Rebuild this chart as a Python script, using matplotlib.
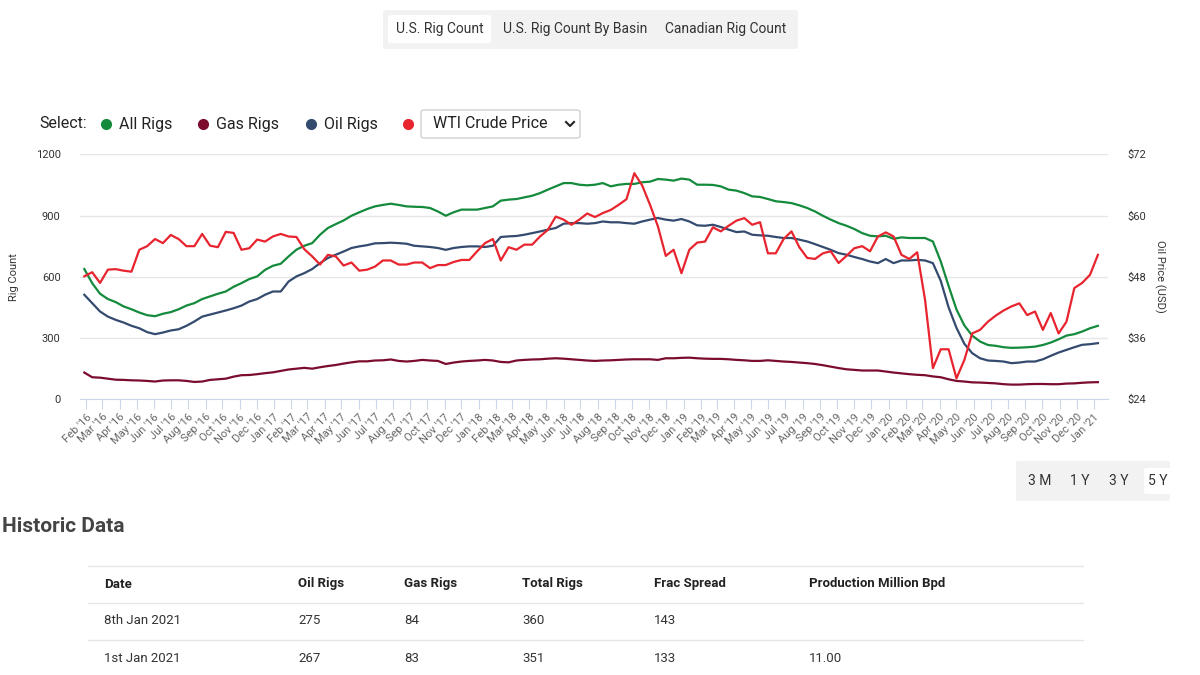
import numpy as np
import pandas as pd
import matplotlib
matplotlib.use("Agg")
import matplotlib.pyplot as plt
from matplotlib.patches import FancyBboxPatch
from matplotlib.lines import Line2D

plt.rcParams['font.family'] = ['Roboto', 'DejaVu Sans']

# weekly data sampled every two weeks, 29 Jan 2016 .. 8 Jan 2021
dates = pd.date_range('2016-01-29', periods=130, freq='14D')

all_rigs = [
    638, 569, 517, 491, 476, 455, 441, 425, 412, 407,
    419, 427, 441, 459, 471, 491, 504, 517, 528, 551,
    569, 589, 602, 634, 654, 664, 700, 733, 752, 765,
    806, 839, 858, 876, 899, 916, 932, 945, 952, 958,
    952, 945, 943, 942, 937, 920, 899, 916, 929, 929,
    929, 937, 945, 973, 978, 981, 989, 997, 1010, 1027,
    1043, 1059, 1059, 1051, 1048, 1051, 1059, 1043, 1051, 1055,
    1055, 1063, 1066, 1079, 1076, 1071, 1081, 1076, 1051, 1051,
    1050, 1043, 1027, 1022, 1010, 994, 991, 981, 970, 966,
    961, 950, 937, 920, 899, 880, 863, 850, 834, 814,
    801, 798, 801, 786, 793, 790, 790, 790, 773, 675,
    555, 440, 362, 312, 283, 266, 262, 255, 252, 253,
    255, 258, 266, 278, 294, 312, 319, 332, 348, 360,
]

oil_rigs = [
    512, 471, 430, 405, 389, 376, 360, 348, 329, 319,
    327, 337, 343, 360, 381, 405, 415, 425, 435, 446,
    459, 479, 491, 512, 528, 528, 577, 602, 618, 638,
    667, 692, 708, 724, 741, 749, 755, 764, 765, 767,
    765, 762, 752, 749, 746, 741, 732, 741, 746, 749,
    749, 746, 752, 795, 798, 800, 806, 814, 822, 831,
    839, 860, 863, 863, 860, 863, 871, 867, 867, 863,
    860, 871, 880, 888, 880, 875, 883, 871, 852, 850,
    855, 844, 831, 819, 822, 806, 803, 801, 795, 790,
    790, 782, 773, 760, 746, 732, 716, 708, 697, 687,
    675, 667, 687, 667, 680, 680, 683, 680, 667, 580,
    450, 350, 272, 226, 201, 190, 188, 185, 177, 180,
    185, 185, 196, 213, 229, 242, 255, 267, 270, 275,
]

gas_rigs = [
    131, 108, 106, 101, 96, 95, 93, 92, 90, 87,
    92, 93, 93, 90, 85, 87, 95, 98, 101, 111,
    118, 119, 123, 128, 132, 139, 146, 150, 154, 150,
    157, 163, 168, 175, 181, 186, 186, 190, 191, 195,
    188, 185, 188, 193, 190, 188, 173, 180, 185, 188,
    190, 193, 190, 183, 181, 190, 193, 195, 196, 199,
    201, 199, 196, 193, 190, 188, 190, 191, 193, 195,
    196, 196, 196, 193, 201, 201, 203, 204, 201, 199,
    198, 198, 196, 193, 191, 188, 188, 191, 188, 185,
    183, 180, 177, 173, 167, 160, 153, 147, 144, 141,
    141, 141, 136, 131, 127, 123, 120, 118, 112, 108,
    98, 90, 87, 83, 82, 80, 78, 74, 72, 72,
    74, 75, 75, 74, 74, 77, 78, 81, 83, 84,
]

wti_price = [
    48.1, 48.9, 46.8, 49.4, 49.5, 49.2, 49.0, 53.3, 54.0, 55.4,
    54.6, 56.2, 55.4, 54.0, 54.0, 56.4, 54.1, 53.8, 56.8, 56.6,
    53.3, 53.6, 55.3, 54.9, 55.9, 56.4, 55.9, 55.8, 53.4, 52.0,
    50.4, 52.3, 52.0, 50.2, 50.8, 49.2, 49.4, 50.0, 51.2, 51.2,
    50.4, 50.4, 50.8, 50.8, 49.7, 50.3, 50.3, 50.9, 51.3, 51.3,
    53.0, 54.6, 55.4, 51.2, 53.8, 53.3, 54.3, 54.3, 55.9, 57.2,
    59.8, 59.2, 58.2, 59.2, 60.4, 59.7, 60.5, 61.1, 62.1, 63.2,
    68.3, 65.9, 62.1, 57.9, 52.1, 53.3, 48.7, 53.3, 54.7, 54.9,
    57.7, 56.9, 58.0, 59.0, 59.5, 58.2, 58.7, 52.6, 52.6, 55.4,
    56.9, 53.8, 51.7, 51.5, 52.6, 53.0, 50.7, 52.1, 53.6, 54.0,
    53.0, 55.9, 56.7, 55.9, 52.3, 51.5, 52.8, 43.5, 30.1, 33.8,
    33.8, 28.1, 31.7, 36.9, 37.6, 39.2, 40.4, 41.4, 42.2, 42.8,
    40.5, 41.2, 37.6, 40.9, 36.9, 39.2, 45.8, 46.8, 48.4, 52.3,
]

rig_ticks = [0, 300, 600, 900, 1200]
price_ticks = [24, 36, 48, 60, 72]
month_ticks = pd.date_range('2016-02-01', '2021-01-01', freq='MS')

table_cols = ['Date', 'Oil Rigs', 'Gas Rigs', 'Total Rigs', 'Frac Spread', 'Production Million Bpd']
table_rows = [
    ['8th Jan 2021', '275', '84', '360', '143', ''],
    ['1st Jan 2021', '267', '83', '351', '133', '11.00'],
]

c_all = '#148a3c'
c_gas = '#7b0c2e'
c_oil = '#344a6e'
c_wti = '#e8242f'

W, H = 1200, 675
fig = plt.figure(figsize=(12, 6.75), dpi=100)


def fx(px):
    return px / W


def fy(py):
    return 1 - py / H


ax = fig.add_axes([fx(80), fy(399.3), fx(1108) - fx(80), fy(154.3) - fy(399.3)])
ax.plot(dates, all_rigs, color=c_all, lw=1.6)
ax.plot(dates, gas_rigs, color=c_gas, lw=1.6)
ax.plot(dates, oil_rigs, color=c_oil, lw=1.6)
ax.set_ylim(0, 1200)
ax.set_yticks(rig_ticks)
ax.set_xlim(dates[0] - pd.Timedelta(days=7.7), dates[0] + pd.Timedelta(days=1824))
ax.grid(axis='y', color='#e6e6e6', lw=1)
ax.set_axisbelow(True)
for s in ['top', 'right', 'left']:
    ax.spines[s].set_visible(False)
ax.spines['bottom'].set_color('#ccd6eb')
ax.set_xticks(month_ticks)
ax.set_xticklabels([d.strftime("%b '%y") for d in month_ticks], rotation=45,
                   ha='right', rotation_mode='anchor', fontsize=8, color='#666666')
ax.tick_params(axis='x', length=7, color='#ccd6eb', pad=2)
ax.tick_params(axis='y', length=0, labelsize=8, labelcolor='#333333', pad=14)
ax.set_ylabel('Rig Count', fontsize=8, color='#333333', labelpad=12)

ax2 = ax.twinx()
ax2.plot(dates, wti_price, color=c_wti, lw=1.6)
ax2.set_ylim(24, 72)
ax2.set_yticks(price_ticks)
ax2.set_yticklabels(['$%d' % v for v in price_ticks])
ax2.tick_params(axis='y', length=0, labelsize=8, labelcolor='#333333', pad=14)
for s in ax2.spines.values():
    s.set_visible(False)
ax2.set_ylabel('Oil Price (USD)', fontsize=8, color='#333333', rotation=270, labelpad=14)

# top tab bar
fig.add_artist(FancyBboxPatch((fx(383), fy(49)), fx(798) - fx(383), fy(10) - fy(49),
                              boxstyle='round,pad=0,rounding_size=0.003',
                              transform=fig.transFigure, fc='#f2f2f2', ec='none'))
fig.add_artist(FancyBboxPatch((fx(388), fy(43)), fx(491) - fx(388), fy(15) - fy(43),
                              boxstyle='round,pad=0,rounding_size=0.003',
                              transform=fig.transFigure, fc='white', ec='none'))
for txt, px in [('U.S. Rig Count', 440), ('U.S. Rig Count By Basin', 575), ('Canadian Rig Count', 726)]:
    fig.text(fx(px), fy(29), txt, ha='center', va='center', fontsize=10, color='#333333')

# series selector row
fig.text(fx(39), fy(124), 'Select:', ha='left', va='center', fontsize=11.5, color='#222222')
for col, label, px in [(c_all, 'All Rigs', 106), (c_gas, 'Gas Rigs', 203), (c_oil, 'Oil Rigs', 311), (c_wti, None, 408)]:
    fig.add_artist(Line2D([fx(px)], [fy(124)], marker='o', markersize=7, color=col,
                          transform=fig.transFigure))
    if label:
        fig.text(fx(px + 13), fy(124), label, ha='left', va='center', fontsize=11.5, color='#222222')
fig.add_artist(FancyBboxPatch((fx(421), fy(138)), fx(580) - fx(421), fy(110) - fy(138),
                              boxstyle='round,pad=0,rounding_size=0.003',
                              transform=fig.transFigure, fc='white', ec='#d0d0d0', lw=1))
fig.text(fx(433), fy(124), 'WTI Crude Price', ha='left', va='center', fontsize=11.5, color='#222222')
fig.add_artist(Line2D([fx(566), fx(570), fx(574)], [fy(122), fy(126), fy(122)],
                      color='#222222', lw=1.5, transform=fig.transFigure))

# range buttons
fig.add_artist(FancyBboxPatch((fx(1016), fy(501)), fx(1170) - fx(1016), fy(461) - fy(501),
                              boxstyle='round,pad=0,rounding_size=0.003',
                              transform=fig.transFigure, fc='#f2f2f2', ec='none'))
fig.add_artist(FancyBboxPatch((fx(1144), fy(494)), fx(1172) - fx(1144), fy(468) - fy(494),
                              boxstyle='round,pad=0,rounding_size=0.003',
                              transform=fig.transFigure, fc='white', ec='none'))
for txt, px in [('3 M', 1040), ('1 Y', 1080), ('3 Y', 1119), ('5 Y', 1158)]:
    fig.text(fx(px), fy(481), txt, ha='center', va='center', fontsize=10, color='#333333')

# historic data table
fig.text(fx(2), fy(526), 'Historic Data', ha='left', va='center', fontsize=15,
         fontweight='bold', color='#444444')
col_x = [104, 298, 404, 522, 654, 809]
for py in [566, 603, 640, 676]:
    fig.add_artist(Line2D([fx(88), fx(1083)], [fy(py), fy(py)], color='#e6e6e6', lw=1,
                          transform=fig.transFigure))
for name, px in zip(table_cols, col_x):
    fig.text(fx(px), fy(584), name, ha='left', va='center', fontsize=9.5,
             fontweight='bold', color='#222222')
for row, py in zip(table_rows, [621, 658]):
    for val, px in zip(row, col_x):
        fig.text(fx(px), fy(py), val, ha='left', va='center', fontsize=9.5, color='#333333')

fig.savefig('out.png', dpi=100, facecolor='white')
